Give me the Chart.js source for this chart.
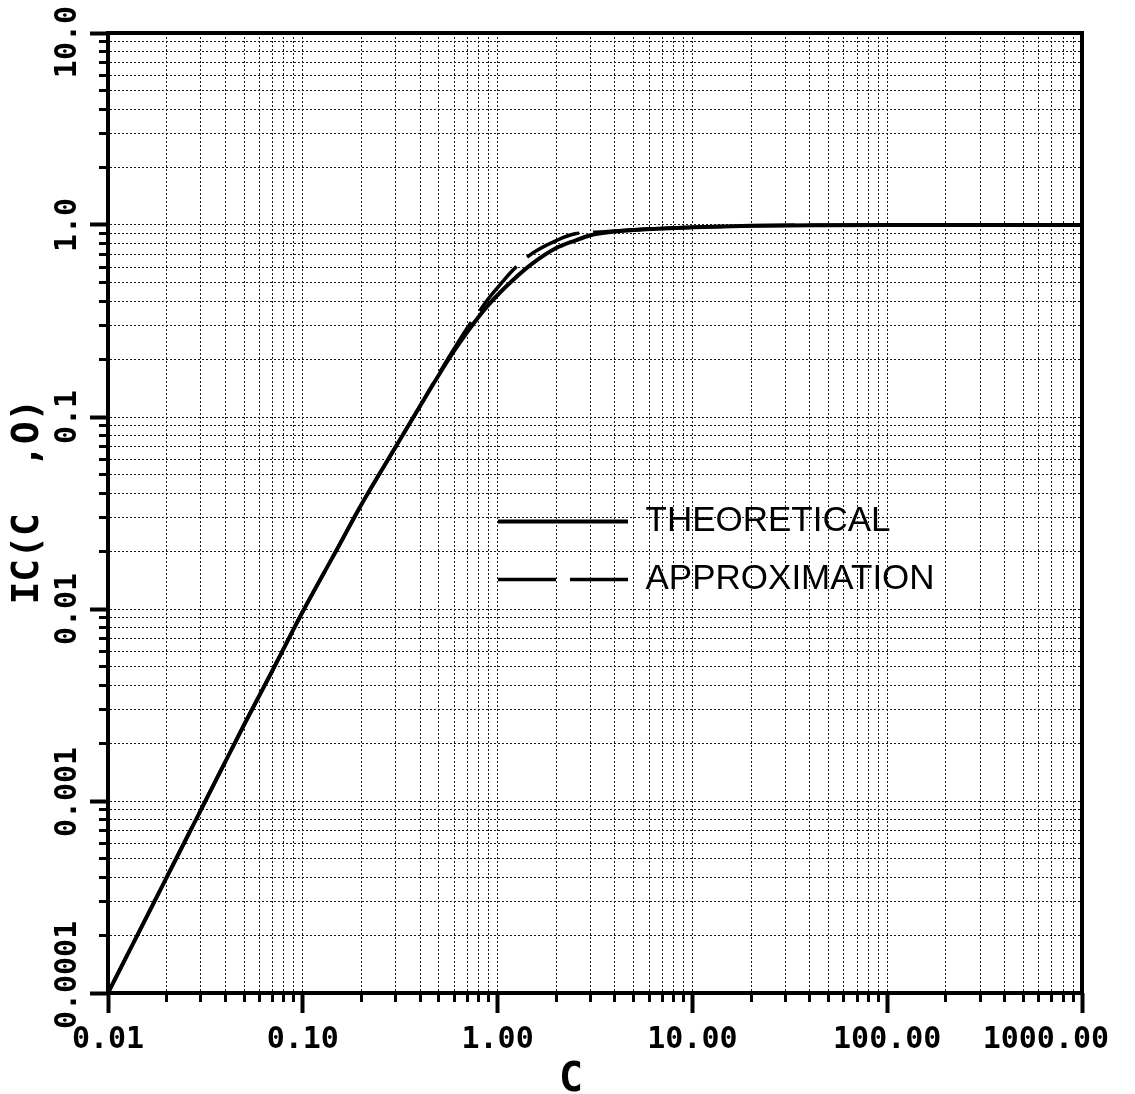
<!DOCTYPE html>
<html>
<head>
<meta charset="utf-8">
<script src="https://cdn.jsdelivr.net/npm/chart.js@4/dist/chart.umd.min.js"></script>
<style>
  html, body { margin: 0; padding: 0; background: #fff; }
  #wrap { width: 1135px; height: 1094px; }
</style>
</head>
<body>
<div id="wrap"><canvas id="c" width="1135" height="1094"></canvas></div>
<script>
// ---- data ----
const cValues = [0.01, 0.02, 0.03, 0.05, 0.07, 0.1, 0.15, 0.2, 0.3, 0.4, 0.5, 0.6, 0.7, 0.8, 0.9, 1.0, 1.2, 1.5, 2.0, 2.5, 3.0, 4.0, 5.0, 7.0, 10, 20, 50, 100, 1000];
const theoretical = [0.0001, 0.0004, 0.0009, 0.0025, 0.0048, 0.0097, 0.0205, 0.035, 0.070, 0.114, 0.166, 0.222, 0.278, 0.333, 0.385, 0.432, 0.517, 0.627, 0.758, 0.83, 0.885, 0.925, 0.943, 0.96, 0.972, 0.99, 0.998, 1.0, 1.0];
const approximation = [0.0001, 0.0004, 0.0009, 0.0025, 0.0048, 0.0097, 0.0205, 0.035, 0.070, 0.114, 0.168, 0.228, 0.292, 0.352, 0.415, 0.472, 0.583, 0.71, 0.83, 0.90, 0.915, 0.93, 0.945, 0.96, 0.972, 0.99, 0.998, 1.0, 1.0];

const seriesNames = ['THEORETICAL', 'APPROXIMATION'];
const xDecades = [0.01, 0.1, 1, 10, 100, 1000];
const xTickLabels = ['0.01', '0.10', '1.00', '10.00', '100.00', '1000.00'];
const yDecades = [0.0001, 0.001, 0.01, 0.1, 1, 10];
const yTickLabels = ['0.0001', '0.001', '0.01', '0.1', '1.0', '10.0'];
const xTitle = 'C';
const yTitle = 'IC(C  ,O)';

// ---- helpers ----
function decadeTicks(decades) {
  const t = [];
  for (let i = 0; i < decades.length - 1; i++) {
    for (let k = 1; k < 10; k++) t.push({ value: k * decades[i] });
  }
  t.push({ value: decades[decades.length - 1] });
  return t;
}
function majorTicks(decades) { return decades.map(d => ({ value: d })); }
function decadeIndex(decades, v) {
  return decades.findIndex(d => Math.abs(v / d - 1) < 1e-9);
}

const monoFont = 'DejaVu Sans Mono';

const placeLegend = {
  id: 'placeLegend',
  afterLayout(chart) {
    const lg = chart.legend;
    if (!lg) return;
    lg.left = 475; lg.top = 481;
    lg.width = 560; lg.height = 220;
    lg.right = lg.left + lg.width; lg.bottom = lg.top + lg.height;
  }
};

const minorGrid = { color: '#1a1a1a', lineWidth: 1, drawTicks: true, tickLength: 9, tickWidth: 3, tickColor: '#000', tickBorderDash: [] };

new Chart(document.getElementById('c'), {
  type: 'line',
  data: {
    datasets: [
      {
        label: seriesNames[0],
        data: cValues.map((c, i) => ({ x: c, y: theoretical[i] })),
        borderColor: '#000', backgroundColor: '#000',
        borderWidth: 4, pointRadius: 0, pointBorderWidth: 4, pointBorderColor: '#000',
        cubicInterpolationMode: 'monotone', fill: false
      },
      {
        label: seriesNames[1],
        data: cValues.map((c, i) => ({ x: c, y: approximation[i] })),
        borderColor: '#000', backgroundColor: '#000',
        borderWidth: 3.5, borderDash: [58, 14], borderDashOffset: 15,
        pointRadius: 0, pointBorderWidth: 3.5, pointBorderColor: '#000',
        cubicInterpolationMode: 'monotone', fill: false
      }
    ]
  },
  options: {
    responsive: false,
    devicePixelRatio: 1,
    animation: false,
    layout: { padding: 0 },
    plugins: {
      tooltip: { enabled: false },
      legend: {
        position: 'chartArea',
        align: 'start',
        labels: {
          usePointStyle: true,
          pointStyle: 'line',
          pointStyleWidth: 130,
          padding: 23,
          color: '#000',
          font: { family: 'Liberation Sans', size: 35 },
          generateLabels(chart) {
            const items = Chart.defaults.plugins.legend.labels.generateLabels(chart);
            items.forEach(it => {
              const ds = chart.data.datasets[it.datasetIndex];
              it.lineDash = ds.borderDash || [];
              it.lineDashOffset = 0;
              it.lineWidth = ds.borderWidth;
              it.strokeStyle = '#000';
              it.fontColor = '#000';
            });
            return items;
          }
        }
      }
    },
    scales: {
      x: {
        type: 'logarithmic', position: 'bottom', min: 0.01, max: 1000,
        afterBuildTicks(s) { s.ticks = decadeTicks(xDecades); },
        afterFit(s) { s.height = 101; s.paddingLeft = 0; s.paddingRight = 0; },
        grid: minorGrid,
        border: { display: true, color: '#000', width: 4, dash: [2, 2] },
        ticks: {
          autoSkip: false, maxRotation: 0, minRotation: 0, padding: 20, color: '#000',
          font: { family: monoFont, size: 30, weight: 'bold' },
          callback(v) {
            const i = decadeIndex(xDecades, v);
            if (i < 0) return '';
            return i === xDecades.length - 1 ? xTickLabels[i] + '    ' : xTickLabels[i];
          }
        },
        title: {
          display: true, text: xTitle + '  ', color: '#000',
          font: { family: monoFont, size: 40, weight: 'bold', lineHeight: 1 },
          padding: { top: 0, bottom: -7 }
        }
      },
      xMajor: {
        type: 'logarithmic', position: 'bottom', weight: -1, min: 0.01, max: 1000,
        afterBuildTicks(s) { s.ticks = majorTicks(xDecades); },
        afterFit(s) { s.height = 0; s.paddingLeft = 0; s.paddingRight = 0; },
        grid: { display: true, drawOnChartArea: false, drawTicks: true, tickLength: 20, tickWidth: 4, tickColor: '#000', tickBorderDash: [] },
        border: { display: false },
        ticks: { display: false, autoSkip: false }
      },
      y: {
        type: 'logarithmic', position: 'left', min: 0.0001, max: 10,
        afterBuildTicks(s) { s.ticks = decadeTicks(yDecades); },
        afterFit(s) { s.width = 108; s.paddingTop = 0; s.paddingBottom = 0; },
        grid: minorGrid,
        border: { display: true, color: '#000', width: 4, dash: [2, 2] },
        ticks: {
          autoSkip: false, minRotation: 90, maxRotation: 90, crossAlign: 'center', padding: -41, color: '#000',
          font: { family: monoFont, size: 30, weight: 'bold' },
          callback(v) {
            const i = decadeIndex(yDecades, v);
            if (i < 0) return '';
            const s = yTickLabels[i];
            if (i === 0) return '  ' + s;
            if (i === 1) return ' ' + s;
            if (i === yDecades.length - 1) return s + ' ';
            return s;
          }
        },
        title: {
          display: true, text: ' ' + yTitle, color: '#000',
          font: { family: monoFont, size: 38, weight: 'bold' },
          padding: { top: 5, bottom: 0 }
        }
      },
      yMajor: {
        type: 'logarithmic', position: 'left', weight: -1, min: 0.0001, max: 10,
        afterBuildTicks(s) { s.ticks = majorTicks(yDecades); },
        afterFit(s) { s.width = 0; s.paddingTop = 0; s.paddingBottom = 0; },
        grid: { display: true, drawOnChartArea: false, drawTicks: true, tickLength: 18, tickWidth: 4, tickColor: '#000', tickBorderDash: [] },
        border: { display: false },
        ticks: { display: false, autoSkip: false }
      },
      xTop: {
        type: 'logarithmic', position: 'top', min: 0.01, max: 1000,
        afterFit(s) { s.height = 33; s.paddingLeft = 0; s.paddingRight = 0; },
        grid: { display: false, drawTicks: false },
        border: { display: true, color: '#000', width: 4 },
        ticks: { display: false }
      },
      yRight: {
        type: 'logarithmic', position: 'right', min: 0.0001, max: 10,
        afterFit(s) { s.width = 53; s.paddingTop = 0; s.paddingBottom = 0; },
        grid: { display: false, drawTicks: false },
        border: { display: true, color: '#000', width: 4 },
        ticks: { display: false }
      }
    }
  },
  plugins: [placeLegend]
});
</script>
</body>
</html>
